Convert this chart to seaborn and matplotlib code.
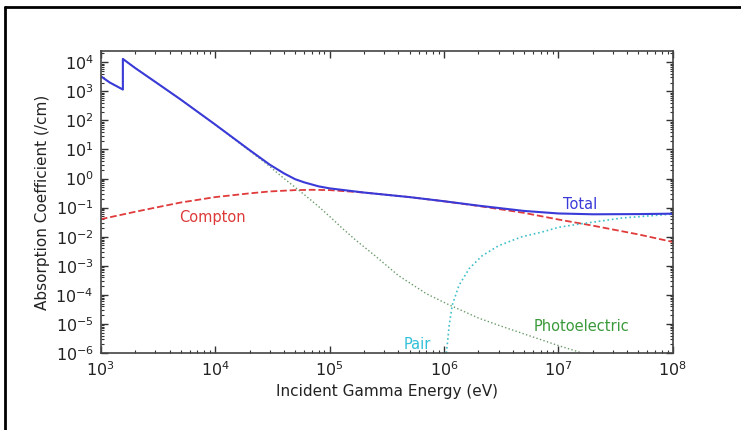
import numpy as np
import pandas as pd
import matplotlib
matplotlib.use("Agg")
import matplotlib.pyplot as plt
import seaborn as sns
from matplotlib.ticker import LogLocator, NullFormatter
from matplotlib.lines import Line2D

# energies (eV) and absorption coefficients (/cm)
total_e = [1e3, 1.2e3, 1.56e3, 1.56e3, 2e3, 3e3, 5e3, 1e4, 2e4, 3e4, 4e4, 5e4, 6e4, 8e4,
           1e5, 2e5, 5e5, 1e6, 2e6, 5e6, 1e7, 2e7, 5e7, 1e8]
total_mu = [3.3e3, 2.0e3, 1.15e3, 1.3e4, 6.3e3, 2.1e3, 5.2e2, 72, 9.5, 3.0, 1.5, 0.95, 0.74, 0.54,
            0.46, 0.33, 0.23, 0.166, 0.117, 0.077, 0.063, 0.059, 0.060, 0.062]

compton_e = [1e3, 2e3, 3e3, 5e3, 1e4, 2e4, 3e4, 5e4, 7e4, 1e5, 2e5, 5e5, 1e6, 2e6, 5e6,
             1e7, 2e7, 5e7, 1e8]
compton_mu = [0.040, 0.072, 0.10, 0.15, 0.23, 0.31, 0.36, 0.40, 0.41, 0.40, 0.33, 0.23, 0.165,
              0.114, 0.066, 0.039, 0.024, 0.012, 0.0066]

photo_e = [1e3, 1.2e3, 1.56e3, 1.56e3, 2e3, 3e3, 5e3, 1e4, 2e4, 3e4, 4e4, 5e4, 6e4, 8e4, 1e5,
           1.3e5, 1.7e5, 2.5e5, 4e5, 7e5, 1.1e6, 2e6, 3e6, 5.5e6, 1e7, 1.5e7, 2.2e7]
photo_mu = [3.3e3, 2.0e3, 1.15e3, 1.3e4, 6.3e3, 2.1e3, 5.2e2, 71, 9.0, 2.6, 1.0, 0.5, 0.28, 0.11,
            0.05, 0.019, 7.5e-3, 2.2e-3, 4.6e-4, 1.1e-4, 4.6e-5, 1.6e-5, 9e-6, 4e-6, 1.8e-6, 1.1e-6, 6e-7]

pair_e = [1.03e6, 1.08e6, 1.11e6, 1.18e6, 1.35e6, 1.66e6, 2.15e6, 3e6, 4.8e6, 7.2e6, 1e7,
          1.5e7, 2.4e7, 3.6e7, 5.8e7, 1e8]
pair_mu = [5e-7, 3e-6, 9e-6, 4.4e-5, 2.1e-4, 8e-4, 2.2e-3, 4.9e-3, 0.010, 0.0145, 0.021,
           0.027, 0.035, 0.044, 0.051, 0.060]

labels = ["Total", "Compton", "Pair", "Photoelectric"]
label_x = [1.55e7, 9.5e3, 5.9e5, 1.6e7]
label_y = [0.13, 0.044, 2.0e-6, 8.3e-6]

sns.set_style("white")
plt.rcParams["font.family"] = ["DejaVu Sans"]
plt.rcParams["axes.unicode_minus"] = False

fig = plt.figure(figsize=(7.41, 4.30), dpi=100)
ax = fig.add_axes([0.136, 0.179, 0.772, 0.702])

sns.lineplot(x=compton_e, y=compton_mu, ax=ax, color="#e03a3a", linestyle="--", lw=1.3,
             estimator=None, sort=False)
sns.lineplot(x=photo_e, y=photo_mu, ax=ax, color="#6a9a6a", linestyle=":", lw=1.0,
             estimator=None, sort=False)
sns.lineplot(x=pair_e, y=pair_mu, ax=ax, color="#40c0c8", linestyle=":", lw=1.2,
             estimator=None, sort=False)
sns.lineplot(x=total_e, y=total_mu, ax=ax, color="#3a3ad8", lw=1.5,
             estimator=None, sort=False)

ax.set(xscale="log", yscale="log")
ax.set_xlim(1e3, 1e8)
ax.set_ylim(1e-6, 2.4e4)

ax.xaxis.set_major_locator(LogLocator(base=10, numticks=20))
ax.yaxis.set_major_locator(LogLocator(base=10, numticks=20))
ax.xaxis.set_minor_locator(LogLocator(base=10, subs=np.arange(2, 10), numticks=100))
ax.yaxis.set_minor_locator(LogLocator(base=10, subs=np.arange(2, 10), numticks=100))
ax.xaxis.set_minor_formatter(NullFormatter())
ax.yaxis.set_minor_formatter(NullFormatter())
ax.tick_params(which="both", direction="in", top=True, right=True, bottom=True, left=True,
               colors="#333333", labelcolor="#222222")
ax.tick_params(which="major", length=5, width=1, labelsize=11.5, pad=5)
ax.tick_params(which="minor", length=2.5, width=0.8)
for s in ax.spines.values():
    s.set_color("#444444")
    s.set_linewidth(1.2)

ax.set_xlabel("Incident Gamma Energy (eV)", fontsize=11, color="#222222", labelpad=4)
ax.set_ylabel("Absorption Coefficient (/cm)", fontsize=11, color="#222222", labelpad=4)

label_colors = ["#3a3ad8", "#dd3a3a", "#30c0d8", "#3a9a3a"]
for t, x, y, c in zip(labels, label_x, label_y, label_colors):
    ax.text(x, y, t, color=c, fontsize=10.5, ha="center", va="center")

# black frame remnant on left and top
fig.add_artist(Line2D([0.007, 0.007], [0.0, 0.984], color="black", lw=2, transform=fig.transFigure))
fig.add_artist(Line2D([0.007, 1.0], [0.984, 0.984], color="black", lw=2, transform=fig.transFigure))

fig.savefig("out.png", dpi=100)
